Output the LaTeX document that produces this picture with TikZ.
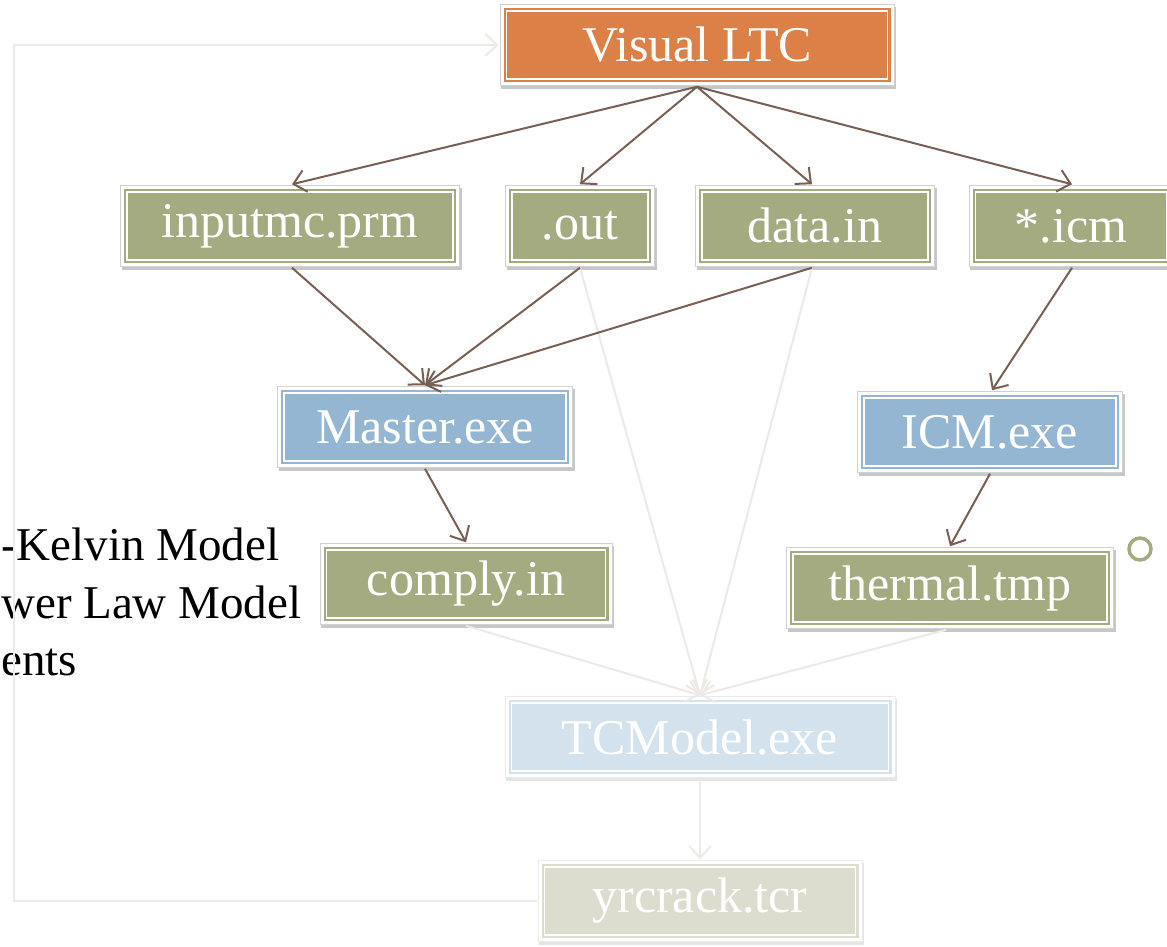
\documentclass[tikz,border=0pt]{standalone}
\usepackage{fontspec}
\setmainfont{Liberation Serif}
\usetikzlibrary{arrows.meta}

\definecolor{boxorange}{HTML}{DD8047}
\definecolor{boxgreen}{HTML}{A5AB81}
\definecolor{boxblue}{HTML}{94B6D2}
\definecolor{paleblue}{HTML}{D4E2EE}
\definecolor{palegreen}{HTML}{DCDDCF}
\definecolor{linkbrown}{HTML}{775F55}
\definecolor{linkfaint}{HTML}{EDE9E5}

\tikzset{
  boxbase/.style={draw=white, line width=1.5pt, text=white, inner sep=0pt,
    minimum height=68pt, font=\fontsize{50}{60}\selectfont},
  solidbox/.style={boxbase, fill=#1,
    preaction={draw=black!22, line width=14pt, transform canvas={shift={(1.5pt,-3pt)}}},
    preaction={draw=black!18, line width=14pt},
    preaction={draw=white, line width=12pt},
    preaction={draw=#1, line width=6pt}},
  palebox/.style={boxbase, fill=#1,
    preaction={draw=black!10, line width=14pt, transform canvas={shift={(1.5pt,-3pt)}}},
    preaction={draw=black!8, line width=14pt},
    preaction={draw=white, line width=12pt},
    preaction={draw=#1, line width=6pt}},
  link/.style={draw=linkbrown, line width=2pt,
    -{Straight Barb[length=12pt,width=22pt]}},
  faint/.style={link, draw=linkfaint},
  sidetext/.style={anchor=base west, inner sep=0pt, text=black,
    font=\fontsize{47}{56}\selectfont}
}

\begin{document}
\begin{tikzpicture}[x=1pt, y=-1pt]
  \useasboundingbox (0,0) rectangle (1167,946);
  \clip (0,0) rectangle (1167,946);

  % side text of the slide
  \node[sidetext] (t1) at (1,560) {-Kelvin Model};
  \node[sidetext] (t2) at (1,618) {wer Law Model};
  \node[sidetext] (t3) at (1,675) {ents};
  \node[circle, draw=boxgreen, line width=3.5pt, minimum size=22pt, inner sep=0pt] (bul) at (1140,549) {};

  % boxes
  \node[solidbox=boxorange, minimum width=381pt] (vltc) at (697,45) {Visual LTC};
  \node[solidbox=boxgreen, minimum width=326pt] (prm) at (290,226) {inputmc.prm};
  \node[solidbox=boxgreen, minimum width=136pt] (out) at (580,226) {.out};
  \node[solidbox=boxgreen, minimum width=226pt] (data) at (815,226) {data.in};
  \node[solidbox=boxgreen, minimum width=191pt] (icm) at (1071,226) {*.icm};
  \node[solidbox=boxblue, minimum width=282pt] (master) at (425,427) {Master.exe};
  \node[solidbox=boxblue, minimum width=252pt] (icmexe) at (990,432) {ICM.exe};
  \node[solidbox=boxgreen, minimum width=279pt] (comply) at (466,584) {comply.in};
  \node[solidbox=boxgreen, minimum width=314pt] (thermal) at (950,588) {thermal.tmp};
  \node[palebox=paleblue, minimum width=377pt] (tcm) at (700,737) {TCModel.exe};
  \node[palebox=palegreen, minimum width=311pt] (yrc) at (700,901) {yrcrack.tcr};

  % faint connectors
  \draw[faint] ([yshift=-7pt]out.south) -- ([yshift=7pt]tcm.north);
  \draw[faint] ([xshift=-3pt,yshift=-7pt]data.south) -- ([yshift=7pt]tcm.north);
  \draw[faint] ([yshift=-7pt]comply.south) -- ([yshift=7pt]tcm.north);
  \draw[faint] ([xshift=-4pt,yshift=-7pt]thermal.south) -- ([yshift=7pt]tcm.north);
  \draw[faint] ([yshift=-7pt]tcm.south) -- ([yshift=7pt]yrc.north);
  \coordinate (loopbot) at (14,901);
  \coordinate (looptop) at (14,45);
  \draw[faint] ([xshift=-7pt]yrc.west) -- (loopbot) -- (looptop) -- ([xshift=-7pt]vltc.west);

  % main connectors
  \draw[link] ([yshift=-7pt]vltc.south) -- ([xshift=2pt,yshift=7pt]prm.north);
  \draw[link] ([yshift=-7pt]vltc.south) -- ([yshift=7pt]out.north);
  \draw[link] ([yshift=-7pt]vltc.south) -- ([xshift=-3pt,yshift=7pt]data.north);
  \draw[link] ([yshift=-7pt]vltc.south) -- ([xshift=1pt,yshift=7pt]icm.north);
  \draw[link] ([xshift=2pt,yshift=-7pt]prm.south) -- ([yshift=7pt]master.north);
  \draw[link] ([yshift=-7pt]out.south) -- ([yshift=7pt]master.north);
  \draw[link] ([xshift=-3pt,yshift=-7pt]data.south) -- ([yshift=7pt]master.north);
  \draw[link] ([xshift=1pt,yshift=-7pt]icm.south) -- ([xshift=2pt,yshift=7pt]icmexe.north);
  \draw[link] ([yshift=-7pt]master.south) -- ([yshift=7pt]comply.north);
  \draw[link] ([yshift=-7pt]icmexe.south) -- ([yshift=7pt]thermal.north);
\end{tikzpicture}
\end{document}
